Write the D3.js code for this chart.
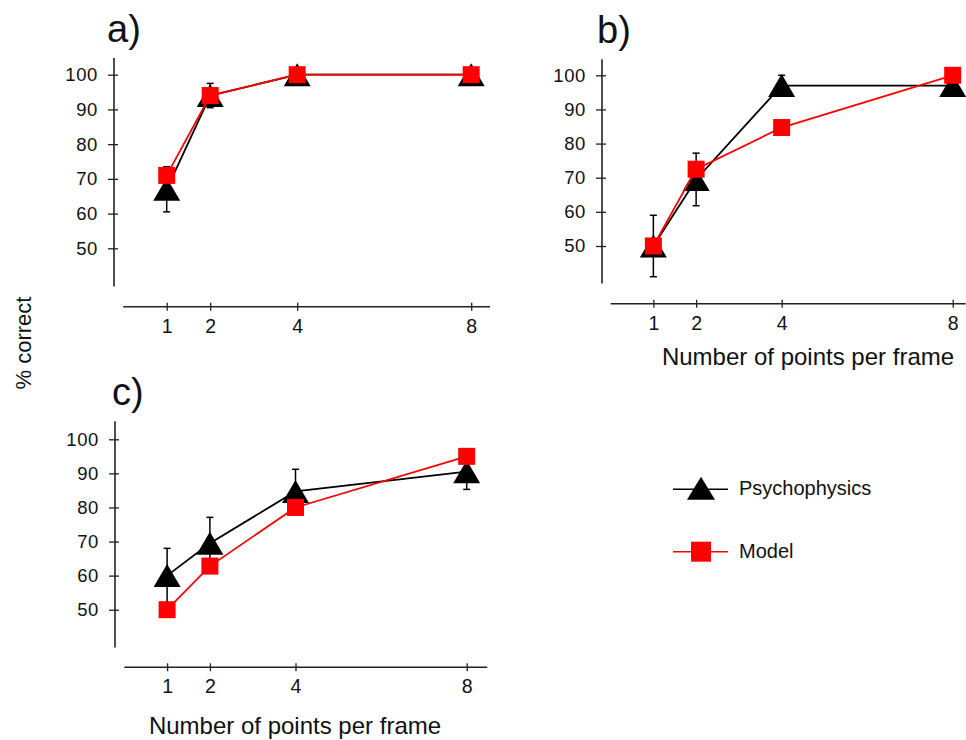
<!DOCTYPE html>
<html>
<head>
<meta charset="utf-8">
<script src="https://cdn.jsdelivr.net/npm/d3@7"></script>
<style>
  body { margin: 0; background: #fff; }
  svg text { font-family: "Liberation Sans", Arial, Helvetica, sans-serif; fill: #111; }
</style>
</head>
<body>
<div id="graph"></div>
<script>
var width = 966, height = 740

// data
var xVals = [1, 2, 4, 8]
var xTicks = [1, 2, 4, 8]
var yTicks = [50, 60, 70, 80, 90, 100]

var psychA = [67, 94, 100, 100]
var errA   = [6.5, 3.5, 0, 0]
var modelA = [71, 94, 100, 100]

var psychB = [50, 69.5, 97, 97]
var errB   = [9, 7.7, 3, 3]
var modelB = [50, 72.5, 84.7, 100]

var psychC = [60, 69.5, 84.7, 90.5]
var errC   = [8, 7.6, 6.5, 5.2]
var modelC = [50, 62.8, 80, 95]

var seriesNames = ['Psychophysics', 'Model']

// pixel layout of the three panels
var panels = [
  {label: 'a)', psych: psychA, err: errA, model: modelA,
   x: [123.2, 471.2], xEnd: 8.43, y: [248.3, 74.7], yLo: 39, yHi: 104.8,
   yAxisX: 114, xAxisY: 306.7, labelPos: [107, 42], title: false},
  {label: 'b)', psych: psychB, err: errB, model: modelB,
   x: [610.6, 952.7], xEnd: 8.3, y: [246, 75.3], yLo: 39, yHi: 104.7,
   yAxisX: 602, xAxisY: 303.7, labelPos: [597, 43], title: [808, 365]},
  {label: 'c)', psych: psychC, err: errC, model: modelC,
   x: [124.3, 466.7], xEnd: 8.48, y: [609.7, 439.3], yLo: 38.9, yHi: 105.3,
   yAxisX: 115, xAxisY: 667.3, labelPos: [112, 405], title: [295, 734]}
]

var svg = d3.select('#graph').append('svg')
    .attr('width', width).attr('height', height)

function triPath(cx, cy, w, h){
  return 'M' + cx + ',' + (cy - h / 2) + 'L' + (cx + w / 2) + ',' + (cy + h / 2) +
         'L' + (cx - w / 2) + ',' + (cy + h / 2) + 'Z'
}

panels.forEach(function(p){
  var x = d3.scaleLinear().domain([0, 8]).range(p.x)
  var y = d3.scaleLinear().domain([50, 100]).range(p.y)
  var g = svg.append('g')

  // y axis
  var yAx = g.append('g')
      .attr('transform', 'translate(' + p.yAxisX + ',0)')
      .call(d3.axisLeft(y).tickValues(yTicks).tickSize(6).tickPadding(10))
  yAx.select('.domain').remove()
  yAx.selectAll('.tick line').attr('x1', 4).attr('stroke', '#222').attr('stroke-width', 1.3)
  yAx.selectAll('.tick text').attr('font-size', 18.5).attr('letter-spacing', 0.6)
      .attr('font-family', '"Liberation Sans", Arial, sans-serif').attr('fill', '#111')
  yAx.append('line')
      .attr('y1', y(p.yLo)).attr('y2', y(p.yHi))
      .attr('stroke', '#222').attr('stroke-width', 1.6)

  // x axis
  var xAx = g.append('g')
      .attr('transform', 'translate(0,' + p.xAxisY + ')')
      .call(d3.axisBottom(x).tickValues(xTicks).tickSize(4).tickPadding(8))
  xAx.select('.domain').remove()
  xAx.selectAll('.tick line').attr('y1', -4).attr('stroke', '#222').attr('stroke-width', 1.3)
  xAx.selectAll('.tick text').attr('font-size', 19.5)
      .attr('font-family', '"Liberation Sans", Arial, sans-serif').attr('fill', '#111')
  xAx.append('line')
      .attr('x1', x(0)).attr('x2', x(p.xEnd))
      .attr('stroke', '#222').attr('stroke-width', 1.6)

  g.append('text')
      .attr('x', p.labelPos[0]).attr('y', p.labelPos[1])
      .attr('font-size', 38)
      .text(p.label)

  if (p.title){
    g.append('text')
        .attr('x', p.title[0]).attr('y', p.title[1])
        .attr('text-anchor', 'middle')
        .attr('font-size', 24)
        .text('Number of points per frame')
  }

  var line = d3.line().x(function(d){ return x(d[0]) }).y(function(d){ return y(d[1]) })
  var psychPts = xVals.map(function(v, i){ return [v, p.psych[i], p.err[i]] })
  var modelPts = xVals.map(function(v, i){ return [v, p.model[i]] })

  // psychophysics: line, error bars, triangles
  g.append('path').datum(psychPts)
      .attr('d', line).attr('fill', 'none').attr('stroke', '#000').attr('stroke-width', 1.8)

  var eb = g.selectAll('g.err').data(psychPts.filter(function(d){ return d[2] > 0 }))
    .enter().append('g').attr('class', 'err')
      .attr('stroke', '#000').attr('stroke-width', 1.5)
  eb.append('line')
      .attr('x1', function(d){ return x(d[0]) }).attr('x2', function(d){ return x(d[0]) })
      .attr('y1', function(d){ return y(d[1] - d[2]) }).attr('y2', function(d){ return y(d[1] + d[2]) })
  eb.append('line')
      .attr('x1', function(d){ return x(d[0]) - 3.5 }).attr('x2', function(d){ return x(d[0]) + 3.5 })
      .attr('y1', function(d){ return y(d[1] + d[2]) }).attr('y2', function(d){ return y(d[1] + d[2]) })
  eb.append('line')
      .attr('x1', function(d){ return x(d[0]) - 3.5 }).attr('x2', function(d){ return x(d[0]) + 3.5 })
      .attr('y1', function(d){ return y(d[1] - d[2]) }).attr('y2', function(d){ return y(d[1] - d[2]) })

  g.selectAll('path.tri').data(psychPts).enter().append('path')
      .attr('class', 'tri')
      .attr('d', function(d){ return triPath(x(d[0]), y(d[1]), 27, 23) })
      .attr('fill', '#000')

  // model: line and squares
  g.append('path').datum(modelPts)
      .attr('d', line).attr('fill', 'none').attr('stroke', '#f00').attr('stroke-width', 1.8)

  g.selectAll('rect.sq').data(modelPts).enter().append('rect')
      .attr('class', 'sq')
      .attr('x', function(d){ return x(d[0]) - 8.5 }).attr('y', function(d){ return y(d[1]) - 8.5 })
      .attr('width', 17).attr('height', 17)
      .attr('fill', '#f00')
})

// shared y title
svg.append('text')
    .attr('transform', 'translate(31,343) rotate(-90)')
    .attr('text-anchor', 'middle')
    .attr('font-size', 22)
    .text('% correct')

// legend
var legend = svg.append('g')
var legRows = [
  {name: seriesNames[0], color: '#000', y: 489.3, baseline: 495, shape: 'tri'},
  {name: seriesNames[1], color: '#f00', y: 551.7, baseline: 558, shape: 'sq'}
]
legRows.forEach(function(r){
  legend.append('line')
      .attr('x1', 673).attr('x2', 728).attr('y1', r.y).attr('y2', r.y)
      .attr('stroke', r.color).attr('stroke-width', 1.5)
  if (r.shape == 'tri'){
    legend.append('path').attr('d', triPath(701, r.y - 1, 28, 23)).attr('fill', r.color)
  } else {
    legend.append('rect').attr('x', 691).attr('y', r.y - 10)
        .attr('width', 20).attr('height', 20).attr('fill', r.color)
  }
  legend.append('text')
      .attr('x', 739).attr('y', r.baseline)
      .attr('font-size', 20)
      .text(r.name)
})
</script>
</body>
</html>
